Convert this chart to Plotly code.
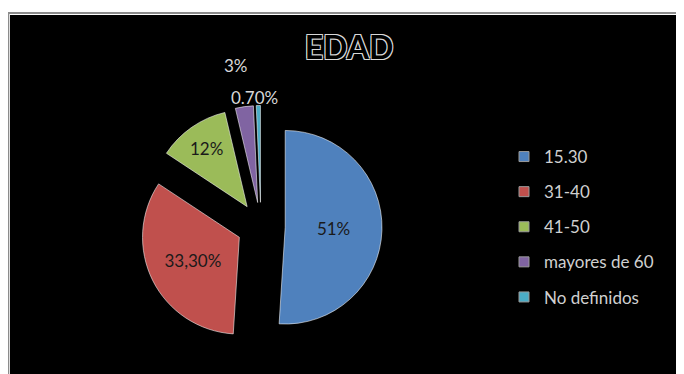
import plotly.graph_objects as go

# ---- data ----
categories = ["15.30", "31-40", "41-50", "mayores de 60", "No definidos"]
values = [51, 33.3, 12, 3, 0.7]
value_labels = ["51%", "33,30%", "12%", "3%", "0.70%"]
colors = ["#4F81BD", "#C0504D", "#9BBB59", "#8064A2", "#4BACC6"]
title_text = "EDAD"

W, H = 684, 374
OFF = 8  # page body margin
FONT = "Lato"

def px_x(p):
    return (p - OFF) / W

def px_y(p):
    return 1 - (p - OFF) / H

fig = go.Figure()

# pie geometry (screen pixels) -> paper domain
cx, cy, half = 261, 226.5, 121
inside = [True, True, True, False, False]
fig.add_trace(go.Pie(
    labels=categories,
    values=values,
    text=[t if ins else "" for t, ins in zip(value_labels, inside)],
    texttemplate="%{text}",
    textinfo="text",
    sort=False,
    direction="clockwise",
    rotation=0,
    pull=[0.25, 0.25, 0.25, 0.25, 0.25],
    marker=dict(colors=colors, line=dict(color="rgba(255,255,255,0.55)", width=1)),
    textposition="inside",
    insidetextorientation="horizontal",
    textfont=dict(family=FONT, size=17, color="#1a1a1a"),
    showlegend=False,
    domain=dict(x=[px_x(cx - half), px_x(cx + half)],
                y=[px_y(cy + half), px_y(cy - half)]),
    hoverinfo="label+percent",
))

# legend entries (one per category, spaced like the reference)
for i, (cat, col) in enumerate(zip(categories, colors)):
    fig.add_trace(go.Scatter(
        x=[None], y=[None], mode="markers", name=cat,
        legendgroup=f"g{i}",
        marker=dict(symbol="square", size=10, color=col,
                    line=dict(color="#9a9a9a", width=1)),
    ))

# outside labels of the two small slices
outside_pos = {3: (236, 66), 4: (254, 98)}
annotations = []
for idx, (sx, sy) in outside_pos.items():
    annotations.append(dict(
        text=value_labels[idx], x=px_x(sx), y=px_y(sy), xref="paper", yref="paper",
        xanchor="center", yanchor="middle", showarrow=False,
        font=dict(family=FONT, size=17, color="#d8d8d8"),
    ))

shapes = [
    # white outer margin (top and left)
    dict(type="rect", xref="paper", yref="paper", x0=0, x1=1,
         y0=px_y(15), y1=1, fillcolor="white", line=dict(width=0), layer="above"),
    dict(type="rect", xref="paper", yref="paper", x0=0, x1=px_x(10),
         y0=0, y1=1, fillcolor="white", line=dict(width=0), layer="above"),
    # grey frame edges
    dict(type="rect", xref="paper", yref="paper", x0=px_x(6), x1=1,
         y0=px_y(14), y1=px_y(12), fillcolor="#8c8c8c", line=dict(width=0), layer="above"),
    dict(type="rect", xref="paper", yref="paper", x0=px_x(6), x1=px_x(9.3),
         y0=0, y1=px_y(12), fillcolor="#8c8c8c", line=dict(width=0), layer="above"),
]

fig.update_layout(
    width=W, height=H,
    margin=dict(l=0, r=0, t=0, b=0),
    paper_bgcolor="black",
    plot_bgcolor="black",
    xaxis=dict(visible=False),
    yaxis=dict(visible=False),
    shapes=shapes,
    annotations=annotations,
    title=dict(
        text=title_text,
        x=px_x(349), xanchor="center",
        y=px_y(48), yanchor="middle",
        font=dict(family=FONT, size=32, color="black", weight="bold",
                  shadow="1px 1px 0 #d8d8d8, -1px -1px 0 #d8d8d8, 1px -1px 0 #d8d8d8, -1px 1px 0 #d8d8d8"),
    ),
    legend=dict(
        x=px_x(504), xanchor="left",
        y=px_y(227), yanchor="middle",
        font=dict(family=FONT, size=17, color="#d0d0d0"),
        bgcolor="rgba(0,0,0,0)",
        tracegroupgap=10,
        itemwidth=30,
    ),
)

fig.write_html("out.html")
